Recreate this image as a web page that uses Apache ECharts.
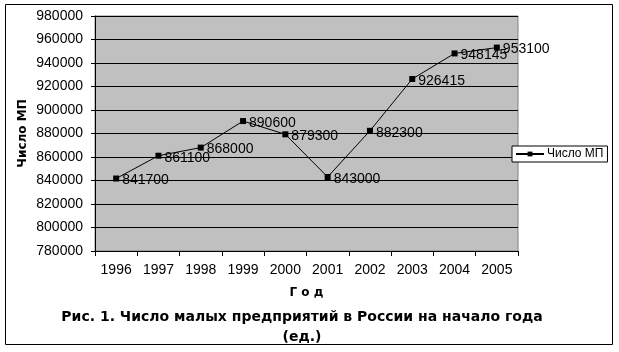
<!DOCTYPE html>
<html><head><meta charset="utf-8">
<script src="https://cdn.jsdelivr.net/npm/echarts@6/dist/echarts.min.js"></script>
<style>html,body{margin:0;padding:0;background:#fff}#c{width:619px;height:352px}</style>
</head><body><div id="c"></div>
<script>
const categories = ['1996','1997','1998','1999','2000','2001','2002','2003','2004','2005'];
const values = [841700, 861100, 868000, 890600, 879300, 843000, 882300, 926415, 948145, 953100];
const seriesName = 'Число МП';
const yName = 'Число МП';
const xName = 'Г о д';
const titleText = 'Рис. 1. Число малых предприятий в России на начало года\n(ед.)';

const chart = echarts.init(document.getElementById('c'), null, {renderer:'canvas'});
const baseFont = 'Liberation Sans, Arial, sans-serif';
chart.setOption({
  animation:false,
  backgroundColor:'#fff',
  graphic:[{type:'rect', shape:{x:5.5,y:4.5,width:607,height:340}, style:{fill:null, stroke:'#000', lineWidth:1}, z:-1}],
  title:{text:titleText, left:297, top:302, textAlign:'center',
    textStyle:{fontFamily:'DejaVu Sans', fontWeight:'bold', fontSize:14, lineHeight:20, color:'#000'}},
  legend:{data:[seriesName], left:512, top:146, itemWidth:28, itemHeight:6, itemGap:0,
    backgroundColor:'#fff', borderColor:'#000', borderWidth:1, padding:[2,4,2,3],
    textStyle:{fontFamily:baseFont, fontSize:12, color:'#000', padding:[0,0,0,-2]}},
  grid:{left:95, right:101, top:16, bottom:101, show:true, backgroundColor:'#c0c0c0', borderColor:'#808080', borderWidth:1},
  xAxis:{type:'category', data:categories, boundaryGap:true,
    name:xName, nameLocation:'middle', nameGap:36,
    nameTextStyle:{fontFamily:'DejaVu Sans', fontWeight:'bold', fontSize:12, color:'#000'},
    axisLine:{lineStyle:{color:'#000', width:1}},
    axisTick:{show:true, length:5, lineStyle:{color:'#000'}},
    axisLabel:{fontFamily:baseFont, fontSize:14, color:'#000', margin:12}},
  yAxis:{type:'value', min:780000, max:980000, interval:20000,
    name:yName, nameLocation:'middle', nameGap:66, nameRotate:90, nameMoveOverlap:false,
    nameTextStyle:{fontFamily:'DejaVu Sans', fontWeight:'bold', fontSize:12, color:'#000'},
    axisLine:{show:true, lineStyle:{color:'#000', width:1}},
    axisTick:{show:true, length:4, lineStyle:{color:'#000'}},
    splitLine:{show:true, lineStyle:{color:'#000', width:1}},
    axisLabel:{fontFamily:baseFont, fontSize:14, color:'#000', margin:12, formatter:v => String(v)}},
  series:[{name:seriesName, type:'line', data:values, symbol:'rect', symbolSize:6,
    itemStyle:{color:'#000'}, lineStyle:{color:'#000', width:1},
    label:{show:true, position:'right', distance:3, offset:[0,2], fontFamily:baseFont, fontSize:14, color:'#000'}}]
});
</script></body></html>
